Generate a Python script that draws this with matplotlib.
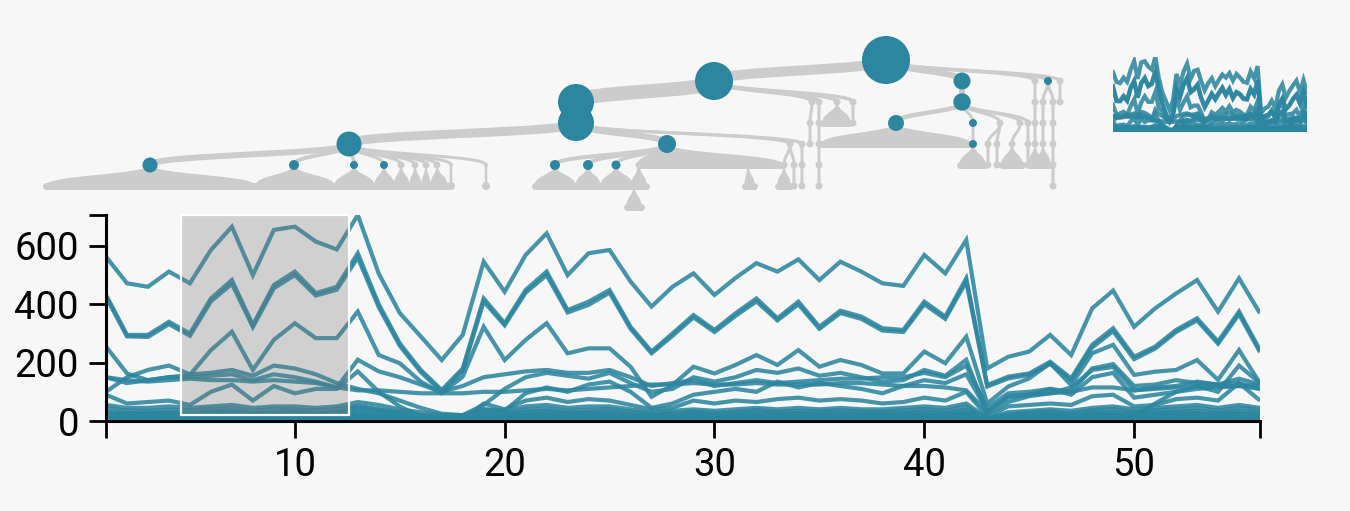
import matplotlib
matplotlib.use("Agg")
import matplotlib.pyplot as plt
from matplotlib.path import Path
from matplotlib.patches import PathPatch

# --- Colours / units ---
TEAL = "#2c86a0"
GRAY = "#cccccc"
BG = "#f7f7f7"
PX = 0.72  # points per pixel at dpi 100

plt.rcParams["font.family"] = ["Roboto", "DejaVu Sans"]

# --- Line chart data (one value per day, 1..56) ---
days = list(range(1, 57))

s1 = [563, 472, 460, 512, 472, 586, 666, 500, 655, 666, 615, 588, 706, 505, 370, 290, 209, 295, 546, 443,
      569, 643, 500, 575, 586, 478, 392, 460, 506, 432, 490, 541, 512, 554, 483, 546, 512, 472, 463, 569,
      506, 620, 180, 220, 238, 295, 226, 386, 447, 323, 386, 437, 483, 375, 489, 369]
s2 = [432, 295, 295, 340, 300, 420, 483, 329, 466, 512, 438, 460, 575, 400, 266, 175, 106, 180, 420, 335,
      449, 512, 380, 409, 449, 323, 238, 300, 363, 312, 369, 420, 352, 409, 323, 378, 358, 318, 312, 409,
      358, 489, 123, 152, 163, 203, 146, 261, 318, 220, 255, 312, 352, 272, 375, 243]
s2b = [425, 290, 288, 332, 292, 410, 470, 322, 455, 500, 430, 450, 560, 390, 258, 168, 100, 172, 410, 328,
       440, 500, 372, 398, 440, 316, 232, 292, 355, 305, 360, 410, 345, 400, 316, 370, 350, 310, 305, 400,
       350, 478, 118, 146, 158, 196, 140, 252, 308, 212, 248, 305, 345, 265, 366, 236]
s3 = [255, 163, 140, 150, 158, 243, 306, 175, 278, 335, 284, 284, 375, 226, 198, 135, 95, 152, 323, 209,
      278, 335, 232, 249, 249, 186, 83, 123, 186, 163, 192, 226, 192, 243, 186, 209, 192, 163, 163, 238,
      198, 289, 60, 118, 146, 198, 123, 232, 261, 158, 169, 175, 209, 141, 243, 129]
m1 = [150, 140, 135, 140, 145, 140, 140, 135, 140, 135, 130, 115, 105, 105, 100, 95, 95, 95, 100, 100,
      105, 110, 105, 110, 115, 120, 125, 125, 130, 125, 125, 130, 125, 125, 125, 130, 130, 125, 120, 120,
      115, 105, 30, 85, 90, 95, 100, 115, 115, 105, 110, 115, 120, 120, 120, 125]
m2 = [100, 150, 175, 190, 160, 165, 175, 155, 190, 180, 160, 130, 110, 95, 70, 45, 25, 20, 55, 110,
      150, 165, 155, 145, 165, 130, 100, 110, 150, 135, 150, 175, 165, 180, 155, 165, 150, 135, 140, 175,
      155, 210, 25, 65, 85, 95, 115, 175, 185, 105, 115, 120, 135, 125, 145, 125]
m3 = [90, 60, 65, 70, 55, 100, 125, 70, 120, 95, 110, 110, 170, 100, 50, 15, 8, 5, 40, 35,
      95, 115, 100, 125, 135, 100, 45, 60, 90, 100, 110, 100, 135, 115, 130, 120, 110, 95, 120, 140,
      130, 160, 35, 80, 90, 110, 100, 180, 195, 120, 125, 140, 130, 125, 130, 110]
m4 = [150, 130, 140, 150, 150, 155, 160, 140, 160, 150, 135, 115, 210, 170, 150, 125, 100, 120, 150, 160,
      170, 175, 165, 165, 175, 150, 120, 130, 140, 120, 130, 140, 130, 135, 140, 145, 145, 150, 150, 165,
      150, 190, 45, 95, 100, 110, 90, 150, 165, 80, 90, 100, 120, 100, 190, 130]
m5 = [20, 25, 25, 25, 20, 30, 30, 25, 30, 30, 25, 30, 50, 40, 25, 10, 5, 5, 60, 40,
      70, 80, 65, 75, 70, 55, 40, 45, 70, 60, 70, 65, 75, 80, 70, 75, 70, 60, 65, 80,
      70, 100, 15, 50, 55, 60, 55, 85, 90, 50, 55, 75, 80, 70, 130, 70]
m6 = [10, 12, 10, 12, 10, 14, 15, 12, 14, 14, 12, 14, 20, 15, 10, 6, 4, 4, 10, 10,
      14, 16, 14, 14, 15, 12, 10, 10, 12, 12, 14, 14, 14, 16, 14, 16, 15, 14, 16, 18,
      16, 24, 5, 12, 14, 16, 14, 18, 20, 15, 60, 100, 110, 115, 120, 110]
l1 = [55, 45, 45, 50, 45, 50, 55, 45, 50, 50, 45, 50, 65, 55, 40, 30, 20, 20, 40, 35,
      50, 55, 45, 50, 50, 40, 30, 35, 40, 35, 40, 45, 40, 45, 40, 45, 40, 40, 45, 50,
      45, 60, 10, 30, 35, 40, 35, 45, 50, 40, 45, 50, 55, 45, 55, 45]
l2 = [42, 36, 34, 39, 37, 41, 43, 35, 41, 39, 36, 41, 52, 40, 31, 21, 15, 16, 31, 27,
      39, 43, 34, 38, 41, 31, 24, 27, 33, 28, 31, 37, 31, 35, 33, 37, 32, 31, 36, 41,
      35, 49, 8, 23, 29, 33, 27, 37, 41, 31, 37, 40, 45, 35, 45, 37]
l3 = [31, 27, 28, 29, 27, 33, 35, 27, 31, 33, 28, 31, 41, 33, 23, 18, 11, 12, 25, 21,
      31, 35, 27, 30, 33, 23, 20, 21, 27, 22, 25, 29, 26, 27, 26, 29, 25, 26, 28, 33,
      27, 39, 6, 19, 23, 25, 22, 29, 31, 26, 29, 31, 35, 27, 35, 28]
l4 = [25, 21, 22, 25, 21, 26, 27, 23, 24, 26, 22, 24, 33, 25, 19, 13, 10, 9, 20, 16,
      24, 28, 21, 25, 24, 20, 15, 18, 20, 17, 21, 22, 19, 23, 20, 22, 21, 19, 23, 25,
      21, 31, 5, 16, 17, 21, 16, 23, 25, 19, 23, 26, 27, 21, 28, 22]
l5 = [18, 17, 15, 18, 16, 20, 21, 16, 19, 18, 17, 19, 25, 18, 14, 10, 6, 7, 15, 12,
      18, 21, 16, 19, 18, 14, 12, 12, 16, 13, 15, 17, 14, 16, 15, 17, 15, 15, 17, 19,
      16, 23, 4, 11, 14, 15, 12, 17, 19, 14, 17, 19, 21, 16, 21, 15]
l6 = [12, 11, 10, 12, 11, 13, 14, 10, 13, 12, 11, 13, 17, 12, 9, 6, 4, 5, 10, 8,
      12, 14, 11, 12, 12, 9, 8, 8, 11, 9, 10, 11, 10, 11, 10, 12, 10, 10, 11, 13,
      11, 15, 3, 8, 9, 10, 8, 11, 12, 9, 11, 13, 14, 11, 14, 10]
l7 = [7, 6, 6, 7, 6, 8, 8, 6, 7, 7, 6, 7, 10, 7, 5, 4, 2, 3, 6, 5,
      7, 8, 6, 7, 7, 5, 4, 5, 6, 5, 6, 7, 6, 7, 6, 7, 6, 6, 7, 8,
      6, 9, 2, 5, 5, 6, 5, 7, 7, 5, 6, 7, 8, 6, 8, 6]
l8 = [3, 3, 2, 3, 3, 4, 4, 3, 3, 3, 3, 3, 5, 3, 2, 2, 1, 1, 3, 2,
      3, 4, 3, 3, 3, 2, 2, 2, 3, 2, 3, 3, 3, 3, 3, 3, 3, 3, 3, 4,
      3, 4, 1, 2, 2, 3, 2, 3, 3, 2, 3, 3, 4, 3, 4, 3]
series = [l8, l7, l6, l5, l4, l3, l2, l1, m6, m5, m4, m3, m2, m1, s3, s2b, s2, s1]

y_max = 706
brush = (4.57, 12.57)
x_ticks = [10, 20, 30, 40, 50]
y_ticks = [0, 200, 400, 600]

# --- Tree data: x position, depth, radius, teal?, parent, link width (px) ---
node_x = [886, 714, 962, 1048, 1035, 1060, 576, 576, 349, 667,
          790, 802, 150, 294, 354, 384, 401, 415, 426, 437,
          451, 451, 486, 486, 555, 588, 616, 639, 748, 634,
          812, 810, 810, 819, 819, 819, 819, 819, 837, 853,
          853, 784, 794, 794, 802, 802, 962, 896, 973, 973,
          1000, 988, 988, 997, 997, 1020, 1012, 1028, 1028, 1028,
          1035, 1035, 1035, 1043, 1043, 1043, 1053, 1053, 1053, 1053,
          1053, 1060]
node_depth = [0, 1, 1, 1, 1, 1, 2, 3, 4, 4,
              4, 4, 5, 5, 5, 5, 5, 5, 5, 5,
              5, 6, 5, 6, 5, 5, 5, 5, 5, 6,
              2, 3, 4, 2, 3, 4, 5, 6, 2, 2,
              3, 5, 5, 6, 5, 6, 2, 3, 3, 4,
              3, 4, 5, 4, 5, 3, 4, 3, 4, 5,
              2, 3, 4, 2, 3, 4, 2, 3, 4, 5,
              6, 2]
node_r = [24, 19, 8.5, 4, 3.5, 3.5, 18, 18, 12.5, 9,
          3.5, 3.5, 7.5, 5, 4, 4, 3.5, 3.5, 3.5, 3.5,
          2, 4, 2, 4, 5, 5, 4.5, 3.5, 3, 3.5,
          3.5, 3.5, 3.5, 3.5, 3.5, 3.5, 3.5, 3.5, 3.5, 3.5,
          3.5, 3.5, 3.5, 3.5, 3.5, 3.5, 8.7, 8, 4, 4,
          3.5, 3.5, 3.5, 3.5, 3.5, 3.5, 3.5, 3.5, 3.5, 3.5,
          3.5, 3.5, 3.5, 3.5, 3.5, 3.5, 3.5, 3.5, 3.5, 3.5,
          3.5, 3.5]
node_teal = [1, 1, 1, 1, 0, 0, 1, 1, 1, 1,
             0, 0, 1, 1, 1, 1, 0, 0, 0, 0,
             0, 0, 0, 0, 1, 1, 1, 0, 0, 0,
             0, 0, 0, 0, 0, 0, 0, 0, 0, 0,
             0, 0, 0, 0, 0, 0, 1, 1, 1, 1,
             0, 0, 0, 0, 0, 0, 0, 0, 0, 0,
             0, 0, 0, 0, 0, 0, 0, 0, 0, 0,
             0, 0]
node_parent = [-1, 0, 0, 0, 0, 0, 1, 6, 7, 7,
               7, 7, 8, 8, 8, 8, 8, 8, 8, 8,
               8, 20, 8, 22, 9, 9, 9, 9, 9, 27,
               1, 30, 31, 1, 33, 34, 35, 36, 1, 1,
               39, 10, 10, 42, 11, 44, 2, 46, 46, 48,
               46, 50, 51, 50, 53, 46, 55, 46, 57, 58,
               4, 60, 61, 3, 63, 64, 3, 66, 67, 68,
               69, 5]
link_w = [0, 10, 6, 3, 3, 3, 14, 12, 9, 6,
          3, 3, 6, 4, 3.5, 3, 3, 3, 3, 3,
          3, 2.5, 3, 2.5, 4, 4, 3.5, 3, 3, 3,
          3.5, 3, 3, 3.5, 3, 3, 3, 3, 3.5, 3.5,
          3, 3, 3, 3, 3, 3, 6, 4.5, 3, 3,
          3, 3, 3, 3, 3, 3, 3, 3, 3, 3,
          3, 3, 3, 3, 3, 3, 3, 3, 3, 3,
          3, 3]
# collapsed subtrees: node index, base span at the next depth
fan_node = [12, 13, 14, 15, 16, 17, 18, 19, 24, 25, 26, 27, 29, 9, 28, 38, 41, 47, 49, 56, 62, 65]
fan_x0 = [46, 256, 335, 375, 394, 410, 422, 431, 535, 576, 601, 632, 627, 640, 745, 823, 778, 822, 960, 1002, 1029, 1037]
fan_x1 = [255, 334, 374, 394, 409, 421, 430, 447, 575, 600, 633, 646, 641, 783, 754, 850, 790, 970, 985, 1022, 1041, 1050]


def level_y(d):
    return 60 + 21 * d


fig = plt.figure(figsize=(13.5, 5.11), dpi=100, facecolor=BG)

# --- Tree (drawn in figure pixel units) ---
tax = fig.add_axes([0, 0, 1, 1])
tax.set_xlim(0, 1350)
tax.set_ylim(511, 0)
tax.axis("off")

for i, p in enumerate(node_parent):
    if p < 0:
        continue
    x0, y0 = node_x[p], level_y(node_depth[p])
    x1, y1 = node_x[i], level_y(node_depth[i])
    ym = (y0 + y1) / 2
    path = Path([(x0, y0), (x0, ym), (x1, ym), (x1, y1)],
                [Path.MOVETO, Path.CURVE4, Path.CURVE4, Path.CURVE4])
    tax.add_patch(PathPatch(path, fill=False, edgecolor=GRAY, lw=link_w[i] * PX,
                            capstyle="round", zorder=1))

for n, a, b in zip(fan_node, fan_x0, fan_x1):
    xa, ya = node_x[n], level_y(node_depth[n])
    yb = level_y(node_depth[n] + 1)
    ym = (ya + yb) / 2
    verts = [(xa, ya), (xa, ym), (a, ym), (a, yb), (b, yb), (b, ym), (xa, ym), (xa, ya), (xa, ya)]
    codes = [Path.MOVETO, Path.CURVE4, Path.CURVE4, Path.CURVE4, Path.LINETO,
             Path.CURVE4, Path.CURVE4, Path.CURVE4, Path.CLOSEPOLY]
    tax.add_patch(PathPatch(Path(verts, codes), facecolor=GRAY, edgecolor=GRAY, lw=1, zorder=2))
    tax.plot([a, b], [yb, yb], color=GRAY, lw=7 * PX, solid_capstyle="round", zorder=2)

ys = [level_y(d) for d in node_depth]
gray_i = [i for i, t in enumerate(node_teal) if not t]
teal_i = [i for i, t in enumerate(node_teal) if t]
tax.scatter([node_x[i] for i in gray_i], [ys[i] for i in gray_i],
            s=[(2 * node_r[i] * PX) ** 2 for i in gray_i], color=GRAY, linewidths=0, zorder=3)
tax.scatter([node_x[i] for i in teal_i], [ys[i] for i in teal_i],
            s=[(2 * node_r[i] * PX) ** 2 for i in teal_i], color=TEAL, linewidths=0, zorder=4)

# --- Main line chart ---
ax = fig.add_axes([106 / 1350, 90 / 511, 1154 / 1350, 206 / 511])
ax.patch.set_alpha(0)
for vals in series:
    ax.plot(days, vals, color=TEAL, lw=3.0, alpha=0.88,
            solid_joinstyle="miter", solid_capstyle="butt")
ax.set_xlim(days[0], days[-1])
ax.set_ylim(0, y_max)
ax.axvspan(brush[0], brush[1], ymin=0.03, ymax=1.0, facecolor=(0.467, 0.467, 0.467, 0.3),
           edgecolor="white", lw=1.6, clip_on=False, zorder=5)

ax.set_xticks(x_ticks)
ax.set_yticks(y_ticks)
ax.set_xticks([days[0], days[-1]], minor=True)
ax.set_yticks([y_max], minor=True)
ax.tick_params(which="both", length=12.5, width=2, direction="out", color="black")
ax.tick_params(axis="x", labelsize=27.5, pad=6)
ax.tick_params(axis="y", labelsize=27.5, pad=7)
for side in ["top", "right"]:
    ax.spines[side].set_visible(False)
for side in ["left", "bottom"]:
    ax.spines[side].set_linewidth(2.2)

# --- Overview thumbnail ---
iax = fig.add_axes([1113 / 1350, 379 / 511, 194 / 1350, 75 / 511])
iax.axis("off")
for vals in series:
    iax.plot(days, vals, color=TEAL, lw=3.0, alpha=0.88, solid_joinstyle="miter")
iax.set_xlim(days[0], days[-1])
iax.set_ylim(0, y_max)

fig.savefig("out.png", dpi=100, facecolor=BG)
